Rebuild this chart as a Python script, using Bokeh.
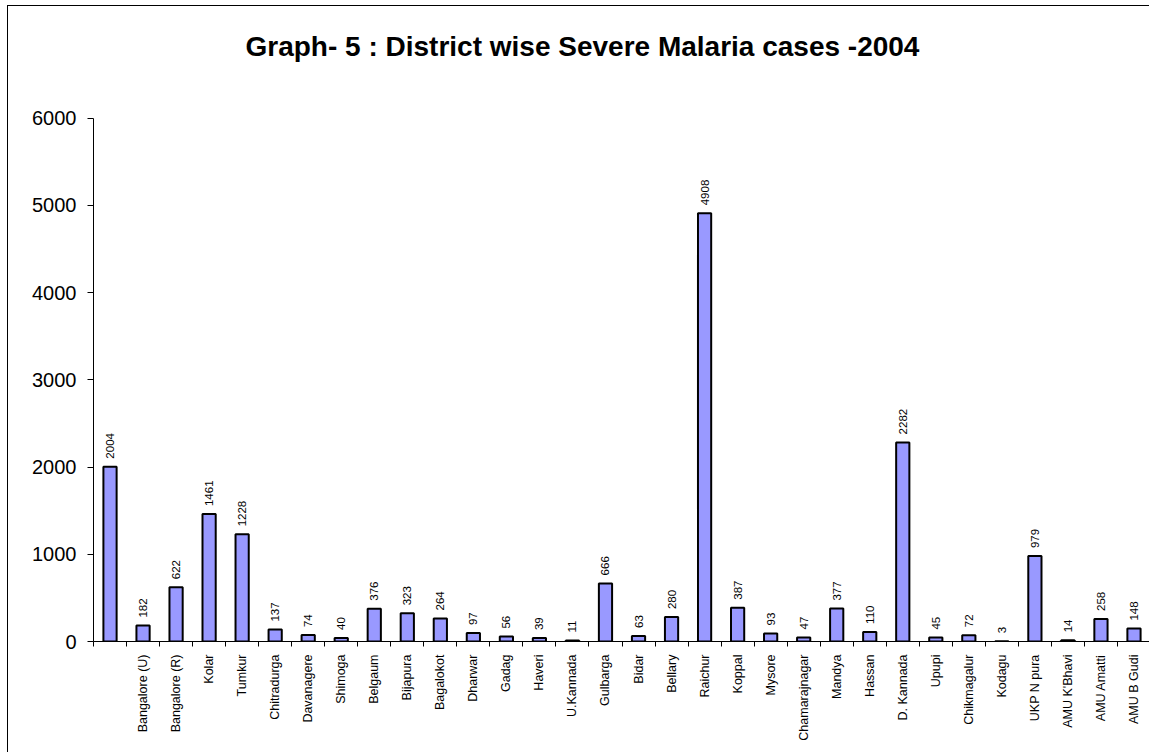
import math
from bokeh.plotting import figure
from bokeh.models import ColumnDataSource, Range1d, LinearAxis, FixedTicker
from bokeh.core.properties import value
from bokeh.embed import file_html
from bokeh.resources import INLINE

title_text = "Graph- 5 : District wise Severe Malaria cases -2004"
districts = ["", "Bangalore (U)", "Bangalore (R)", "Kolar", "Tumkur", "Chitradurga",
             "Davanagere", "Shimoga", "Belgaum", "Bijapura", "Bagalokot", "Dharwar",
             "Gadag", "Haveri", "U.Kannada", "Gulbarga", "Bidar", "Bellary", "Raichur",
             "Koppal", "Mysore", "Chamarajnagar", "Mandya", "Hassan", "D. Kannada",
             "Upupi", "Chikmagalur", "Kodagu", "UKP N pura", "AMU K'Bhavi",
             "AMU Amatti", "AMU B Gudi"]
cases = [2004, 182, 622, 1461, 1228, 137, 74, 40, 376, 323, 264, 97, 56, 39, 11,
         666, 63, 280, 4908, 387, 93, 47, 377, 110, 2282, 45, 72, 3, 979, 14, 258, 148]
y_ticks = [0, 1000, 2000, 3000, 4000, 5000, 6000]

FONT = "Liberation Sans"
n = len(districts)
xs = [i + 0.5 for i in range(n)]
src = ColumnDataSource(dict(x=xs, cases=cases, label=[str(c) for c in cases]))

W, H = 1142, 747
B_LEFT, B_TOP, B_BOTTOM = 85, 55, 112
frame_h = H - B_TOP - B_BOTTOM
axis_h = 523.5  # pixel span of the 0..6000 axis
y_max = y_ticks[-1]
y_end = y_max * frame_h / axis_h

p = figure(width=W, height=H, x_range=Range1d(0, n), y_range=Range1d(0, y_end),
           output_backend="svg", toolbar_location=None,
           x_axis_type=None, y_axis_type=None,
           min_border_left=B_LEFT, min_border_right=0, min_border_top=B_TOP,
           min_border_bottom=B_BOTTOM,
           styles={"border-left": "1px solid #000", "border-top": "1px solid #000",
                   "margin-left": "7px", "margin-top": "5px"})
p.outline_line_color = None
p.background_fill_color = "white"
p.border_fill_color = "white"

p.title.text = title_text
p.title.align = "left"
p.title.offset = 152
p.title.standoff = 0
p.title.vertical_align = "bottom"
p.title.text_font = FONT
p.title.text_font_size = "28px"
p.title.text_font_style = "bold"
p.title.text_color = "black"

p.vbar(x="x", top="cases", bottom=0, width=0.4, source=src,
       fill_color="#9999FF", line_color="black", line_width=2)

p.text(x="x", y="cases", text="label", source=src, angle=math.pi / 2,
       text_align="left", text_baseline="middle", y_offset=-8,
       text_font=value(FONT), text_font_size="11.5px", text_color="black")

xaxis = LinearAxis(
    ticker=FixedTicker(ticks=xs, minor_ticks=list(range(n + 1))),
    major_label_overrides={x: d for x, d in zip(xs, districts)},
    major_label_orientation=math.pi / 2,
    major_tick_out=0, major_tick_in=0, minor_tick_out=5, minor_tick_in=0,
    major_label_standoff=8,
    major_label_text_font=FONT, major_label_text_font_size="12.5px",
    major_label_text_color="black",
    axis_line_color="black", minor_tick_line_color="black")
p.add_layout(xaxis, "below")

yaxis = LinearAxis(
    ticker=FixedTicker(ticks=y_ticks), bounds=(0, y_max),
    major_tick_out=6, major_tick_in=0, minor_tick_out=0, minor_tick_in=0,
    major_label_standoff=11,
    major_label_text_font=FONT, major_label_text_font_size="20px",
    major_label_text_color="black",
    axis_line_color="black", major_tick_line_color="black")
p.add_layout(yaxis, "left")

open("out.html", "w").write(file_html(p, INLINE))
